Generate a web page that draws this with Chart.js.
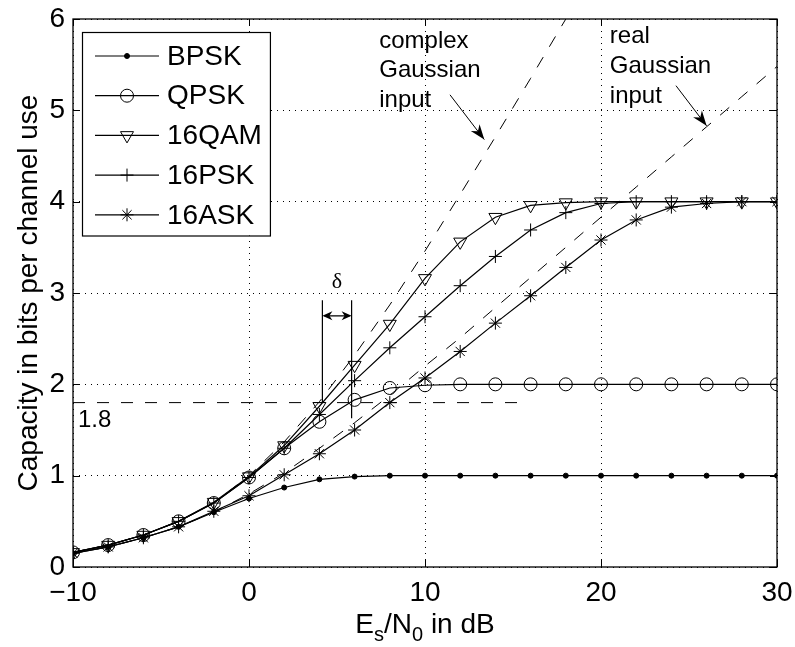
<!DOCTYPE html>
<html>
<head>
<meta charset="utf-8">
<script src="https://cdn.jsdelivr.net/npm/chart.js@4.4.0/dist/chart.umd.min.js"></script>
<style>
  html, body { margin: 0; padding: 0; background: #fff; }
  canvas { display: block; }
</style>
</head>
<body>
<canvas id="capacity" width="795" height="647"></canvas>
<script>
// Es/N0 grid (dB) for the modulation curves
const snrDb = [-10, -8, -6, -4, -2, 0, 2, 4, 6, 8, 10, 12, 14, 16, 18, 20, 22, 24, 26, 28, 30];

const bpsk  = [0.15, 0.22, 0.32, 0.44, 0.60, 0.75, 0.87, 0.96, 0.99, 1.00, 1.00, 1.00, 1.00, 1.00, 1.00, 1.00, 1.00, 1.00, 1.00, 1.00, 1.00];
const qpsk  = [0.16, 0.24, 0.35, 0.50, 0.70, 0.98, 1.30, 1.59, 1.83, 1.96, 1.99, 2.00, 2.00, 2.00, 2.00, 2.00, 2.00, 2.00, 2.00, 2.00, 2.00];
const qam16 = [0.16, 0.24, 0.35, 0.50, 0.71, 0.99, 1.33, 1.76, 2.21, 2.66, 3.16, 3.56, 3.83, 3.96, 3.99, 4.00, 4.00, 4.00, 4.00, 4.00, 4.00];
const psk16 = [0.16, 0.24, 0.35, 0.50, 0.70, 0.98, 1.30, 1.67, 2.04, 2.40, 2.74, 3.08, 3.40, 3.69, 3.88, 3.98, 4.00, 4.00, 4.00, 4.00, 4.00];
const ask16 = [0.15, 0.22, 0.32, 0.44, 0.61, 0.78, 1.01, 1.24, 1.50, 1.80, 2.07, 2.36, 2.67, 2.97, 3.28, 3.58, 3.80, 3.94, 3.98, 4.00, 4.00];

// Gaussian input bounds (dashed)
const complexGaussDb = [-10, -8, -6, -4, -2, 0, 2, 4, 6, 8, 10, 12, 14, 16, 18];
const complexGauss   = [0.16, 0.24, 0.35, 0.50, 0.70, 1.00, 1.37, 1.81, 2.32, 2.87, 3.46, 4.08, 4.71, 5.35, 6.00];
const realGauss      = [0.15, 0.22, 0.32, 0.44, 0.60, 0.80, 1.03, 1.30, 1.58, 1.88, 2.20, 2.51, 2.84, 3.17, 3.50, 3.83, 4.16, 4.49, 4.82, 5.15, 5.48];

// 1.8 bit reference line and the delta gap
const refLineDb = [-10, 15.8];
const refLineBits = [1.8, 1.8];
const deltaDb = [4.17, 5.83];

const xTicks = [-10, 0, 10, 20, 30];
const yTicks = [0, 1, 2, 3, 4, 5, 6];

const FONT = "'Liberation Sans', Arial, Helvetica, sans-serif";

const pts = (xs, ys) => xs.map((x, i) => ({ x: x, y: ys[i] }));

const curve = (label, ys, style, radius, extra) => Object.assign({
  label: label,
  data: pts(snrDb, ys),
  borderColor: '#000',
  borderWidth: 1.2,
  pointStyle: style,
  pointRadius: radius,
  pointBorderColor: '#000',
  pointBorderWidth: 1,
  pointBackgroundColor: 'rgba(0,0,0,0)',
  tension: 0,
  showInLegend: true
}, extra || {});

const dashed = (label, xs, ys) => ({
  label: label,
  data: pts(xs, ys),
  borderColor: '#000',
  borderWidth: 1,
  borderDash: [12, 12],
  pointRadius: 0,
  tension: 0
});

function arrowHead(ctx, x1, y1, x2, y2, len, half) {
  const a = Math.atan2(y2 - y1, x2 - x1);
  ctx.save();
  ctx.translate(x2, y2);
  ctx.rotate(a);
  ctx.beginPath();
  ctx.moveTo(0, 0);
  ctx.lineTo(-len, -half);
  ctx.lineTo(-len * 0.7, 0);
  ctx.lineTo(-len, half);
  ctx.closePath();
  ctx.fill();
  ctx.restore();
}

const figure = {
  id: 'figure',
  beforeDraw(chart) {
    const ctx = chart.ctx;
    ctx.save();
    ctx.fillStyle = '#fff';
    ctx.fillRect(0, 0, chart.width, chart.height);
    ctx.restore();
  },
  afterDatasetsDraw(chart) {
    const ctx = chart.ctx;
    const a = chart.chartArea;
    const xs = chart.scales.x, ys = chart.scales.y;
    const px = v => xs.getPixelForValue(v);
    const py = v => ys.getPixelForValue(v);

    ctx.save();
    ctx.strokeStyle = '#000';
    ctx.fillStyle = '#000';
    ctx.setLineDash([]);

    // box + inward ticks
    ctx.lineWidth = 1.3;
    ctx.strokeRect(a.left, a.top, a.right - a.left, a.bottom - a.top);
    ctx.lineWidth = 1;
    ctx.beginPath();
    xTicks.forEach(t => {
      const x = Math.round(px(t)) + 0.5;
      ctx.moveTo(x, a.bottom); ctx.lineTo(x, a.bottom - 7);
      ctx.moveTo(x, a.top); ctx.lineTo(x, a.top + 7);
    });
    yTicks.forEach(t => {
      const y = Math.round(py(t)) + 0.5;
      ctx.moveTo(a.left, y); ctx.lineTo(a.left + 7, y);
      ctx.moveTo(a.right, y); ctx.lineTo(a.right - 7, y);
    });
    ctx.stroke();

    // delta construction
    ctx.lineWidth = 1.2;
    ctx.beginPath();
    ctx.moveTo(px(deltaDb[0]), py(2.92)); ctx.lineTo(px(deltaDb[0]), py(1.8));
    ctx.moveTo(px(deltaDb[1]), py(2.92)); ctx.lineTo(px(deltaDb[1]), py(1.63));
    const ay = py(2.75);
    ctx.moveTo(px(deltaDb[0]) + 2, ay); ctx.lineTo(px(deltaDb[1]) - 2, ay);
    ctx.stroke();
    arrowHead(ctx, px(deltaDb[1]), ay, px(deltaDb[0]), ay, 10, 4.5);
    arrowHead(ctx, px(deltaDb[0]), ay, px(deltaDb[1]), ay, 10, 4.5);
    ctx.font = "22px 'Liberation Serif', 'DejaVu Serif', serif";
    ctx.textAlign = 'center';
    ctx.textBaseline = 'middle';
    ctx.fillText('δ', px((deltaDb[0] + deltaDb[1]) / 2), py(3.12));

    // annotation text and arrows
    ctx.font = '24px ' + FONT;
    ctx.textAlign = 'left';
    ['complex', 'Gaussian', 'input'].forEach((s, i) => ctx.fillText(s, px(7.4), py(5.76) + i * 29.5));
    ['real', 'Gaussian', 'input'].forEach((s, i) => ctx.fillText(s, px(20.5), py(5.81) + i * 30));
    ctx.fillText('1.8', px(-9.72), py(1.61));

    ctx.lineWidth = 1;
    [[11.42, 5.17, 13.37, 4.68], [24.26, 5.27, 26.0, 4.83]].forEach(r => {
      const x1 = px(r[0]), y1 = py(r[1]), x2 = px(r[2]), y2 = py(r[3]);
      ctx.beginPath(); ctx.moveTo(x1, y1); ctx.lineTo(x2, y2); ctx.stroke();
      arrowHead(ctx, x1, y1, x2, y2, 15, 5.5);
    });

    // x axis title with subscripts
    const big = '28px ' + FONT, small = '20px ' + FONT;
    const parts = [['E', big, 0], ['s', small, 8], ['/N', big, 0], ['0', small, 8], [' in dB', big, 0]];
    let total = 0;
    parts.forEach(p => { ctx.font = p[1]; total += ctx.measureText(p[0]).width; });
    let x = (a.left + a.right) / 2 - total / 2;
    ctx.textBaseline = 'alphabetic';
    parts.forEach(p => {
      ctx.font = p[1];
      ctx.fillText(p[0], x, 633 + p[2]);
      x += ctx.measureText(p[0]).width;
    });

    // legend: line sample with marker, like the original
    const entries = chart.data.datasets.filter(d => d.showInLegend);
    ctx.font = '28px ' + FONT;
    const maxW = Math.max(...entries.map(d => ctx.measureText(d.label).width));
    const bx = 82, by = 32, rowH = 39.7, textX = 167;
    const bw = textX + maxW + 8 - bx, bh = rowH * entries.length + 5;
    ctx.fillStyle = '#fff';
    ctx.fillRect(bx, by, bw, bh);
    ctx.lineWidth = 1.2;
    ctx.strokeRect(bx + 0.5, by + 0.5, bw, bh);
    entries.forEach((d, i) => {
      const y = by + 24 + i * rowH;
      ctx.lineWidth = 1.2;
      ctx.strokeStyle = '#000';
      ctx.beginPath(); ctx.moveTo(95, y); ctx.lineTo(159, y); ctx.stroke();
      ctx.fillStyle = d.pointBackgroundColor;
      ctx.lineWidth = 1;
      Chart.helpers.drawPoint(ctx, {
        pointStyle: d.pointStyle, radius: d.pointRadius,
        rotation: d.pointRotation || 0, borderWidth: 1
      }, 127, y);
      ctx.fillStyle = '#000';
      ctx.textBaseline = 'middle';
      ctx.textAlign = 'left';
      ctx.fillText(d.label, textX, y + 1);
    });
    ctx.restore();
  }
};

new Chart(document.getElementById('capacity'), {
  type: 'line',
  data: {
    datasets: [
      curve('BPSK', bpsk, 'circle', 2.5, { pointBackgroundColor: '#000' }),
      curve('QPSK', qpsk, 'circle', 6.5),
      curve('16QAM', qam16, 'triangle', 7.5, { pointRotation: 180 }),
      curve('16PSK', psk16, 'cross', 6.5),
      curve('16ASK', ask16, 'star', 6.5),
      dashed('complex Gaussian input', complexGaussDb, complexGauss),
      dashed('real Gaussian input', snrDb, realGauss),
      dashed('1.8', refLineDb, refLineBits)
    ]
  },
  options: {
    responsive: false,
    animation: false,
    layout: { padding: { left: 0, top: 19, right: 18, bottom: 0 } },
    plugins: { legend: { display: false }, tooltip: { enabled: false } },
    scales: {
      x: {
        type: 'linear', min: -10, max: 30,
        ticks: {
          stepSize: 10, color: '#000', padding: 9,
          font: { size: 28, family: FONT },
          callback: v => v < 0 ? '\u2212' + Math.abs(v) : String(v)
        },
        grid: { color: '#000', lineWidth: 1, drawTicks: false },
        border: { display: false, dash: [1, 5] },
        afterFit: s => { s.height = 80; s.paddingLeft = 0; s.paddingRight = 0; }
      },
      y: {
        min: 0, max: 6,
        ticks: { stepSize: 1, color: '#000', padding: 8, font: { size: 28, family: FONT } },
        grid: { color: '#000', lineWidth: 1, drawTicks: false },
        border: { display: false, dash: [1, 5] },
        title: {
          display: true, text: 'Capacity in bits per channel use', color: '#000',
          font: { size: 28, family: FONT }, padding: { top: 12, bottom: 0 }
        },
        afterFit: s => { s.width = 73; s.paddingTop = 0; s.paddingBottom = 0; }
      }
    }
  },
  plugins: [figure]
});
</script>
</body>
</html>
